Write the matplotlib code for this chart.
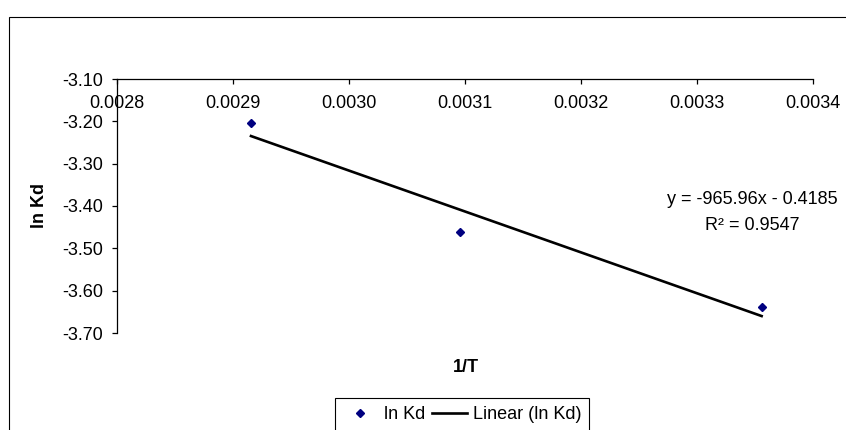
import numpy as np
import matplotlib.pyplot as plt
from matplotlib.patches import Rectangle
from matplotlib.lines import Line2D

plt.rcParams['font.family'] = ['Liberation Sans', 'DejaVu Sans']
plt.rcParams['axes.unicode_minus'] = False

# data
inv_T = [0.0029155, 0.0030960, 0.0033557]
ln_kd = [-3.203, -3.461, -3.639]
slope = -965.96
intercept = -0.4185
r2 = 0.9547
x_ticks = [0.0028, 0.0029, 0.0030, 0.0031, 0.0032, 0.0033, 0.0034]
y_ticks = [-3.10, -3.20, -3.30, -3.40, -3.50, -3.60, -3.70]

fs = 13
W, H = 846, 430

fig = plt.figure(figsize=(W / 100, H / 100), dpi=100)
ax = fig.add_axes([117 / W, 97 / H, 696 / W, 254 / H])

ax.plot(inv_T, ln_kd, ls='none', marker='D', ms=4.5, color='#000080')
x_fit = np.array([min(inv_T), max(inv_T)])
ax.plot(x_fit, slope * x_fit + intercept, color='black', lw=1.9)

ax.set_xlim(x_ticks[0], x_ticks[-1])
ax.set_ylim(min(y_ticks), max(y_ticks))
ax.set_xticks(x_ticks)
ax.set_xticklabels(['%.4f' % v for v in x_ticks])
ax.set_yticks(y_ticks)
ax.set_yticklabels(['%.2f' % v for v in y_ticks])

# x axis crosses at the top (-3.10)
ax.spines['right'].set_visible(False)
ax.spines['top'].set_visible(False)
ax.spines['bottom'].set_position(('data', max(y_ticks)))
for s in ['left', 'bottom']:
    ax.spines[s].set_linewidth(0.9)
ax.tick_params(axis='x', direction='out', length=3.5, width=0.9, pad=8.3, labelsize=fs)
ax.tick_params(axis='y', direction='out', length=3.5, width=0.9, pad=6.3, labelsize=fs)

fig.text(39 / W, 1 - 206 / H, 'ln Kd', rotation=90, fontsize=fs, fontweight='bold',
         ha='center', va='center')
fig.text(466 / W, 1 - 367 / H, '1/T', fontsize=fs, fontweight='bold',
         ha='center', va='center')

fig.text(752 / W, 1 - 199 / H, 'y = %.2fx - %.4f' % (slope, -intercept), fontsize=fs,
         ha='center', va='center')
fig.text(752 / W, 1 - 226 / H, 'R\u00b2 = %.4f' % r2, fontsize=fs,
         ha='center', va='center')

# chart border, running off the right and bottom edges
fig.patches.append(Rectangle((9 / W, -0.1), 1.2, 1.1 - 17 / H, transform=fig.transFigure,
                             fill=False, ec='black', lw=0.8))

handles = [Line2D([], [], ls='none', marker='D', ms=4.5, color='#000080'),
           Line2D([], [], color='black', lw=1.9)]
fig.legend(handles, ['ln Kd', 'Linear (ln Kd)'], loc='upper left',
           bbox_to_anchor=(335 / W, 1 - 398 / H), borderaxespad=0, ncol=2, fontsize=fs,
           frameon=True, fancybox=False, edgecolor='black', framealpha=1,
           handlelength=1.9, handletextpad=0.35, columnspacing=0.4, borderpad=0.45)
fig.legends[0].get_frame().set_linewidth(0.8)

fig.savefig('out.png', dpi=100)
